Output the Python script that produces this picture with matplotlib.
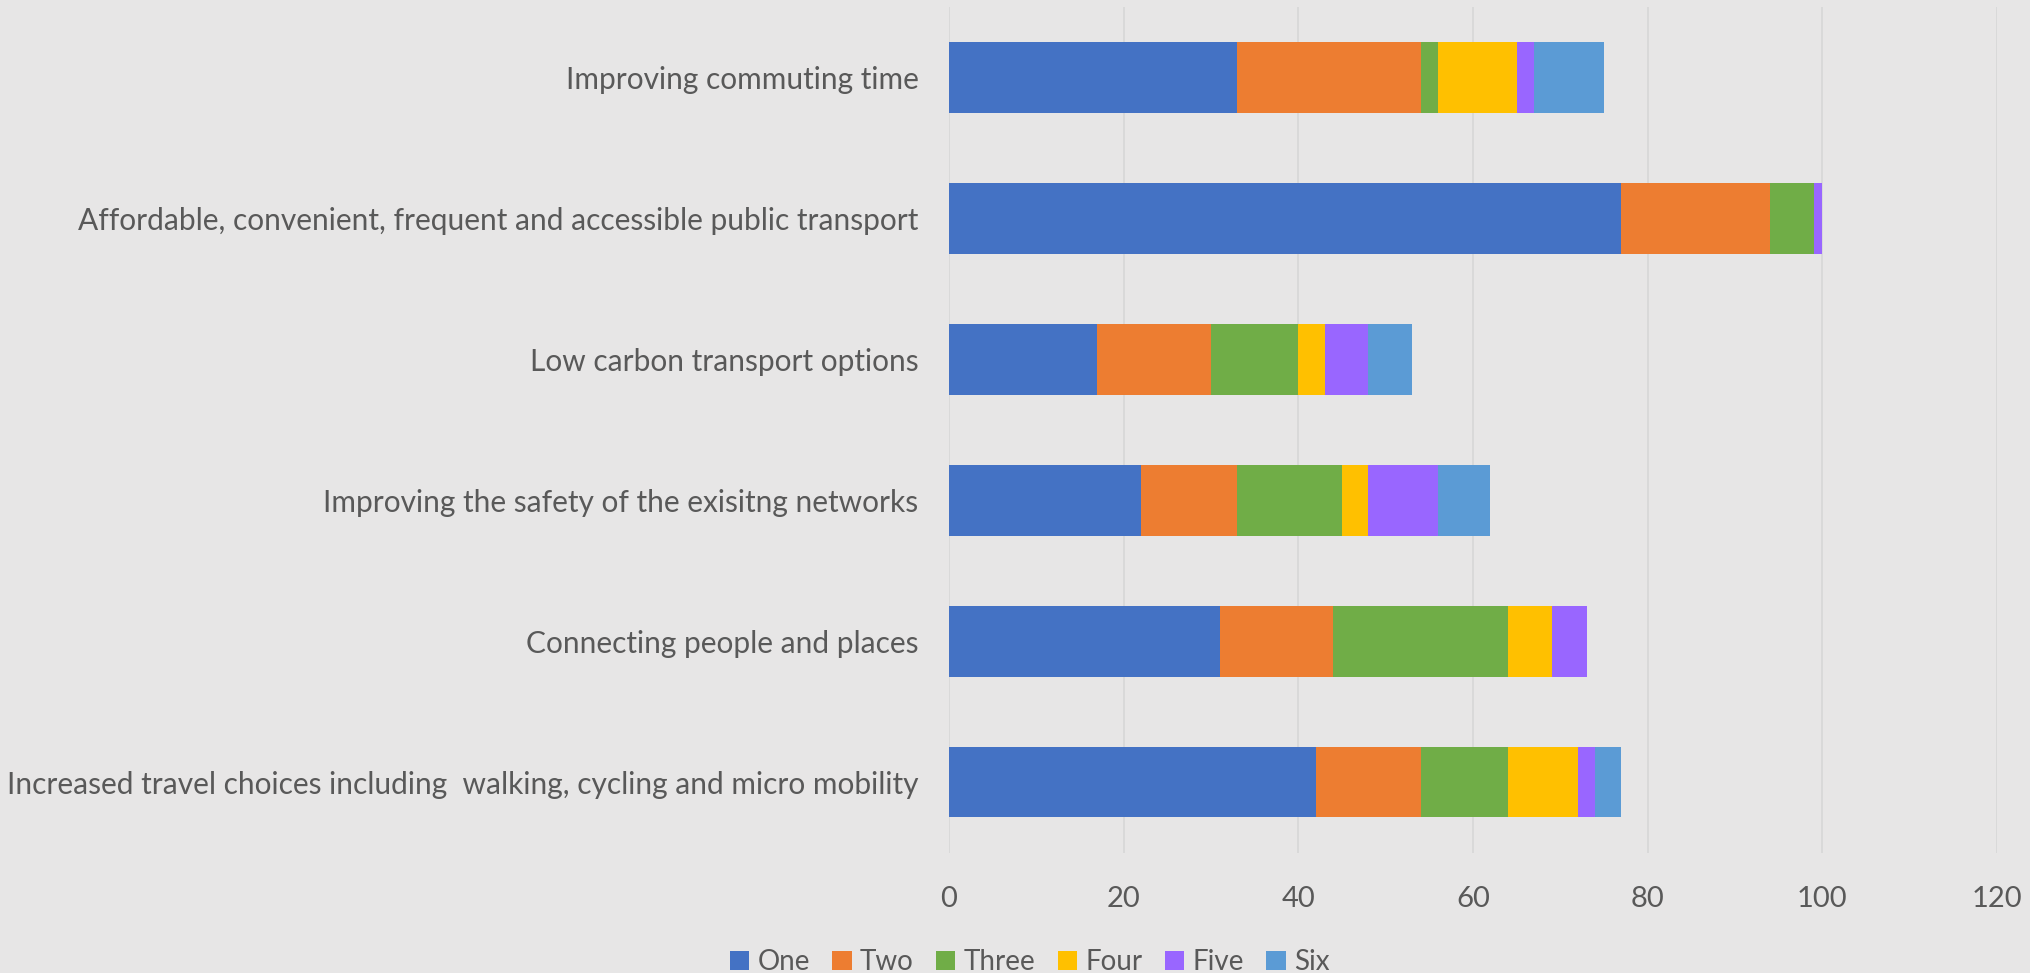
import matplotlib.pyplot as plt
import numpy as np

categories = [
    "Improving commuting time",
    "Affordable, convenient, frequent and accessible public transport",
    "Low carbon transport options",
    "Improving the safety of the exisitng networks",
    "Connecting people and places",
    "Increased travel choices including  walking, cycling and micro mobility",
]
series_names = ["One", "Two", "Three", "Four", "Five", "Six"]
one = [33, 77, 17, 22, 31, 42]
two = [21, 17, 13, 11, 13, 12]
three = [2, 5, 10, 12, 20, 10]
four = [9, 0, 3, 3, 5, 8]
five = [2, 1, 5, 8, 4, 2]
six = [8, 0, 5, 6, 0, 3]
colors = ["#4472C4", "#ED7D31", "#70AD47", "#FFC000", "#9966FF", "#5B9BD5"]
x_ticks = [0, 20, 40, 60, 80, 100, 120]

bg = "#E7E6E6"
txt = "#595959"
plt.rcParams['font.family'] = ['Lato', 'DejaVu Sans']

fig = plt.figure(figsize=(20.31, 9.73), dpi=100, facecolor=bg)
ax = fig.add_axes([949 / 2031, 1 - 852.7 / 973, 1048 / 2031, 845.7 / 973])
ax.set_facecolor(bg)

y = np.arange(len(categories))
left = np.zeros(len(categories))
for name, vals, c in zip(series_names, [one, two, three, four, five, six], colors):
    ax.barh(y, vals, left=left, height=0.5, color=c, label=name, zorder=3)
    left += np.array(vals)

ax.set_ylim(len(categories) - 0.5, -0.5)
ax.set_xlim(0, 120)
ax.set_xticks(x_ticks)
ax.set_yticks(y)
ax.set_yticklabels(categories, fontsize=21.5)
ax.tick_params(axis='both', length=0, colors=txt)
ax.tick_params(axis='x', pad=24, labelsize=21)
ax.tick_params(axis='y', pad=22)
ax.grid(axis='x', color='#D8D8D8', linewidth=1.3, zorder=0)
for s in ax.spines.values():
    s.set_visible(False)

fig.legend(loc='lower center', bbox_to_anchor=(0.507, -0.028), ncol=6, frameon=False,
           fontsize=20, labelcolor=txt, handlelength=0.7, handleheight=0.7,
           handletextpad=0.3, columnspacing=0.8)

fig.savefig("out.png", dpi=100, facecolor=bg)
